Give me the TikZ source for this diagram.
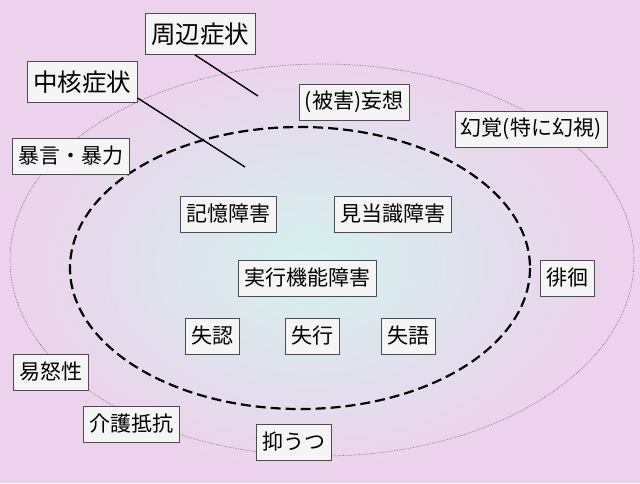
\documentclass[tikz,border=0pt]{standalone}
\usepackage{fontspec}
\setmainfont{Noto Sans CJK JP}
\begin{document}
\begin{tikzpicture}[x=1pt,y=-1pt,
  lbl/.style={draw=black!70,fill=gray!8,line width=0.8pt,inner xsep=6pt,inner ysep=3pt,font=\fontsize{21}{23}\selectfont,minimum height=36pt},
  big/.style={lbl,font=\fontsize{24.5}{26}\selectfont,minimum height=41pt,inner xsep=6pt}]
\useasboundingbox (0,0) rectangle (640,483);
\fill[color={rgb,255:red,236;green,210;blue,236}] (0,0) rectangle (640,483);
\shade[inner color={rgb,255:red,212;green,242;blue,238},outer color={rgb,255:red,236;green,210;blue,236}] (310,265) ellipse (300 and 210);
\draw[black!60,densely dotted,line width=0.6pt] (322,260) ellipse (312 and 196);
\draw[black,dash pattern=on 10pt off 5pt,line width=2.2pt] (300,268) ellipse (230 and 141);
\node[big] (shuhen) at (200,34) {周辺症状};
\node[big] (chukaku) at (82,82) {中核症状};
\coordinate (e1) at (258,96);
\coordinate (e2) at (245,167);
\draw[line width=1.4pt] (shuhen.south) ++(-5,0) -- (e1);
\draw[line width=1.4pt] (chukaku.south east) ++(0,-5) -- (e2);
\node[lbl] (boryoku) at (71,156) {暴言・暴力};
\node[lbl] (mousou) at (354,102) {(被害)妄想};
\node[lbl] (genkaku) at (531,129) {幻覚(特に幻視)};
\node[lbl] (kioku) at (228,214) {記憶障害};
\node[lbl] (kentou) at (393,214) {見当識障害};
\node[lbl] (jikkou) at (307,278) {実行機能障害};
\node[lbl] (haikai) at (567,278) {徘徊};
\node[lbl] (shitsunin) at (212,336) {失認};
\node[lbl] (shikkou) at (312,336) {失行};
\node[lbl] (shitsugo) at (408,336) {失語};
\node[lbl] (ido) at (51,372) {易怒性};
\node[lbl] (kaigo) at (131,424) {介護抵抗};
\node[lbl] (yokuutsu) at (294,442) {抑うつ};
\end{tikzpicture}
\end{document}
